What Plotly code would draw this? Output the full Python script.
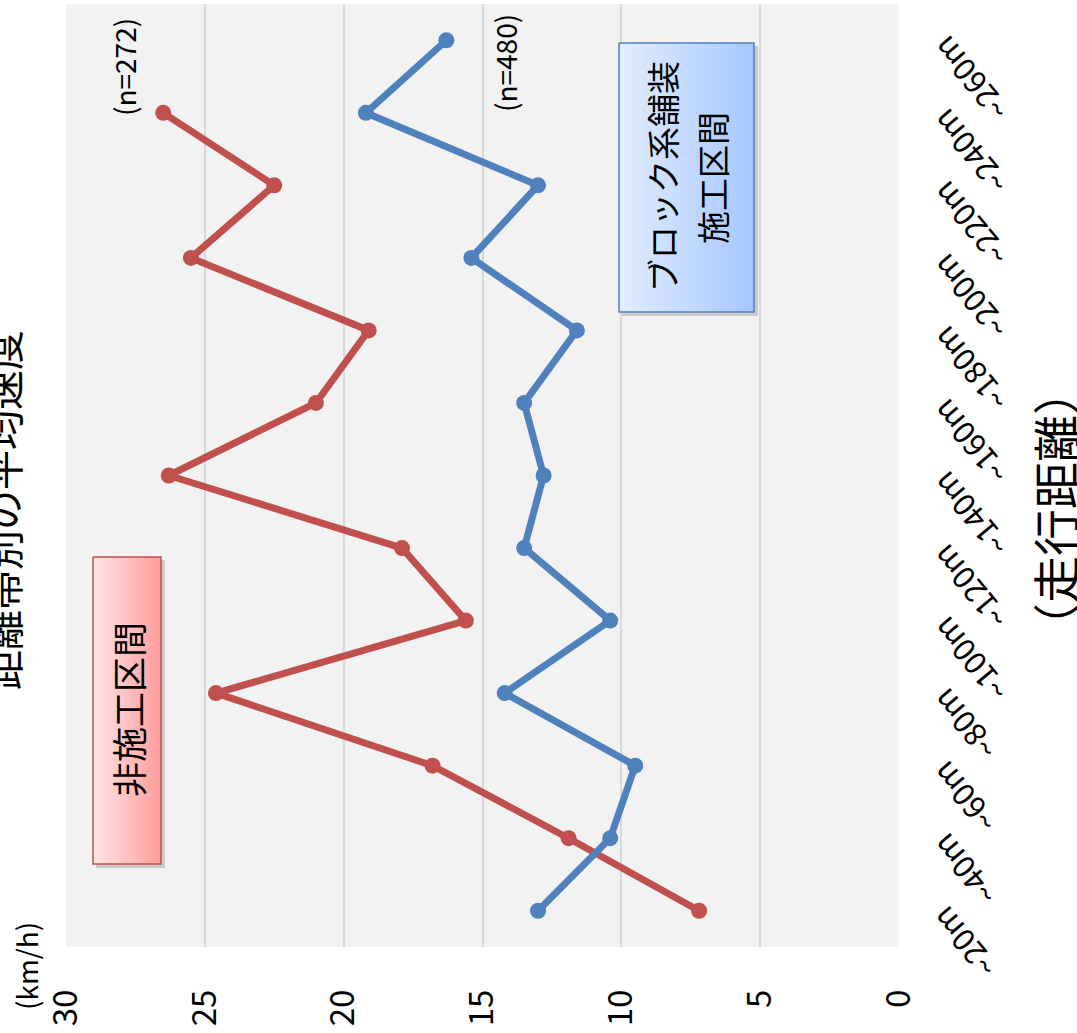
import plotly.graph_objects as go

# 距離帯別の平均速度 (km/h)
distance_bands = ["~20m", "~40m", "~60m", "~80m", "~100m", "~120m", "~140m",
                  "~160m", "~180m", "~200m", "~220m", "~240m", "~260m"]
speed_untreated = [7.2, 11.9, 16.8, 24.6, 15.6, 17.9, 26.3, 21.0, 19.1, 25.5, 22.5, 26.5]
speed_block = [13.0, 10.4, 9.5, 14.2, 10.4, 13.5, 12.8, 13.5, 11.6, 15.4, 13.0, 19.2, 16.3]
speed_ticks = [0, 5, 10, 15, 20, 25, 30]

RED = "#c0504d"
BLUE = "#4f81bd"
JP = "Noto Sans CJK JP"

W, H = 1077, 1033
L, R, T, B = 66, 178, 4, 86   # plot area: x 66..899, y 4..947
PW, PH = W - L - R, H - T - B


def px(x):
    return (x - L) / PW


def py(y):
    return (H - B - y) / PH


fig = go.Figure()

fig.add_trace(go.Scatter(
    x=speed_untreated, y=distance_bands[:len(speed_untreated)],
    mode="lines+markers", line=dict(color=RED, width=7),
    marker=dict(color=RED, size=16), showlegend=False,
))
fig.add_trace(go.Scatter(
    x=speed_block, y=distance_bands,
    mode="lines+markers", line=dict(color=BLUE, width=7),
    marker=dict(color=BLUE, size=16), showlegend=False,
))

shapes = []


# label boxes drawn on an overlay axis measured in pixels
def box(x0, y0, x1, y1, c0, c1, border):
    shapes.append(dict(type="rect", xref="paper", yref="paper",
                       x0=px(x0 + 3), y0=py(y0 + 3), x1=px(x1 + 4), y1=py(y1 + 4),
                       line=dict(width=0), fillcolor="rgba(0,0,0,0.16)", layer="below"))
    fig.add_trace(go.Scatter(
        x=[x0, x1, x1, x0, x0], y=[y0, y0, y1, y1, y0], xaxis="x2", yaxis="y2",
        mode="lines", fill="toself", line=dict(color=border, width=1.5),
        fillgradient=dict(type="horizontal", colorscale=[[0, c0], [1, c1]]),
        hoverinfo="skip", showlegend=False,
    ))


box(619, 43, 754, 312, "#e2edff", "#a6c7ff", "#4f81bd")
box(93, 557, 161, 864, "#ffe6e6", "#ff9c9c", "#c0504d")

ann = [
    dict(text="ブロック系舗装", x=px(662), y=py(177), textangle=-90,
         font=dict(size=33, family=JP, color="black")),
    dict(text="施工区間", x=px(712), y=py(178), textangle=-90,
         font=dict(size=33, family=JP, color="black")),
    dict(text="非施工区間", x=px(127), y=py(710), textangle=-90,
         font=dict(size=35, family=JP, color="black")),
    dict(text="(n=272)", x=px(124), y=py(67), textangle=-90,
         font=dict(size=28, family=JP, color="black")),
    dict(text="(n=480)", x=px(505), y=py(63), textangle=-90,
         font=dict(size=28, family=JP, color="black")),
    dict(text="(km/h)", x=px(26), y=py(966), textangle=-90,
         font=dict(size=28, family=JP, color="black")),
    dict(text="距離帯別の平均速度", x=px(2), y=py(510), textangle=-90,
         font=dict(size=40, family=JP, color="black")),
    dict(text="（走行距離）", x=px(1053), y=py(509), textangle=-90,
         font=dict(size=47, family=JP, color="black")),
]
for a in ann:
    a.update(xref="paper", yref="paper", showarrow=False, xanchor="center", yanchor="middle")

# distance-band labels, slanted beside the right edge of the plot
for band in distance_bands:
    ann.append(dict(text=band, xref="paper", yref="y", x=px(918), y=band, yshift=15,
                    xanchor="left", yanchor="top", textangle=-130, showarrow=False,
                    font=dict(size=31, family=JP, color="black")))

fig.update_layout(
    width=W, height=H,
    margin=dict(l=L, r=R, t=T, b=B),
    paper_bgcolor="white", plot_bgcolor="#f2f2f2",
    annotations=ann, shapes=shapes,
    xaxis=dict(range=[30, 0], tickvals=speed_ticks, tickangle=-90, automargin=False,
               showgrid=True, gridcolor="#d9d9d9", gridwidth=1.5,
               zeroline=False, showline=False, ticks="", ticklabelstandoff=35,
               tickfont=dict(size=33, family=JP, color="black")),
    yaxis=dict(type="category", categoryorder="array", categoryarray=distance_bands,
               range=[-0.5, len(distance_bands) - 0.5], side="right", automargin=False,
               showgrid=False, zeroline=False, showline=False, ticks="",
               showticklabels=False),
    xaxis2=dict(overlaying="x", range=[L, W - R], visible=False, fixedrange=True),
    yaxis2=dict(overlaying="y", range=[H - B, T], visible=False, fixedrange=True),
)

fig.write_html("out.html")
